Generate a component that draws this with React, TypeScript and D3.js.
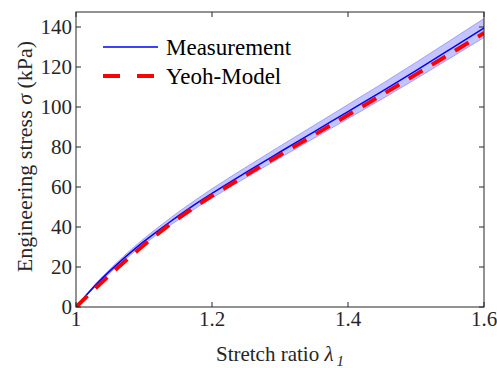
import React from 'react';
import * as d3 from 'd3';

// stretch ratio samples
const stretch = [1.0, 1.02, 1.04, 1.06, 1.08, 1.1, 1.12, 1.14, 1.16, 1.18, 1.2, 1.25, 1.3, 1.35, 1.4, 1.45, 1.5, 1.55, 1.6];
// measured engineering stress (kPa)
const measured = [0, 7.8, 14.8, 21.2, 27.2, 32.8, 38.0, 43.0, 47.8, 52.4, 56.8, 67.3, 77.5, 87.6, 97.7, 107.8, 118.2, 128.8, 139.5];
// spread of the measurement (kPa)
const spread = [0, 0.5, 0.8, 1.0, 1.2, 1.4, 1.6, 1.8, 2.0, 2.1, 2.3, 2.6, 2.9, 3.2, 3.5, 3.8, 4.1, 4.4, 4.7];
// Yeoh model fit (kPa)
const yeoh = [0, 6.6, 13.0, 19.2, 25.2, 31.0, 36.5, 41.7, 46.6, 51.2, 55.6, 65.9, 76.0, 86.0, 96.0, 106.1, 116.3, 126.6, 137];

const xTicks = [1, 1.2, 1.4, 1.6];
const yTicks = [0, 20, 40, 60, 80, 100, 120, 140];

const width = 497;
const height = 368;
const margin = { top: 12, right: 13, bottom: 61, left: 76 };
const font = '"Liberation Serif", "Times New Roman", serif';
const axisColor = '#262626';

export default function App() {
  const x = d3.scaleLinear().domain([1, 1.6]).range([margin.left, width - margin.right]);
  const y = d3.scaleLinear().domain([0, 147.5]).range([height - margin.bottom, margin.top]);

  const idx = stretch.map((_, i) => i);

  const area = d3.area<number>()
    .curve(d3.curveMonotoneX)
    .x(i => x(stretch[i]))
    .y0(i => y(measured[i] - spread[i]))
    .y1(i => y(measured[i] + spread[i]));

  const line = (vals: number[]) => d3.line<number>()
    .curve(d3.curveMonotoneX)
    .x(i => x(stretch[i]))
    .y(i => y(vals[i]))(idx) as string;

  const x0 = margin.left, x1 = width - margin.right;
  const y0 = height - margin.bottom, y1 = margin.top;
  const tick = 5;

  return (
    <svg width={width} height={height} style={{ position: 'absolute', left: 0, top: 0, background: '#fff' }}
      fontFamily={font}>
      <defs>
        <clipPath id="plot">
          <rect x={x0} y={y1} width={x1 - x0} height={y0 - y1} />
        </clipPath>
      </defs>
      <g clipPath="url(#plot)">
        <path d={area(idx) as string} fill="#c4c4ff" stroke="#a0a0ff" strokeWidth={1} />
        <path d={line(measured)} fill="none" stroke="#0000ff" strokeWidth={1.5} />
        <path d={line(yeoh)} fill="none" stroke="#ff0000" strokeWidth={4} strokeDasharray="16,11" />
      </g>

      {/* box and ticks */}
      <rect x={x0} y={y1} width={x1 - x0} height={y0 - y1} fill="none" stroke={axisColor} strokeWidth={1} />
      {xTicks.map(t => (
        <g key={'x' + t}>
          <line x1={x(t)} x2={x(t)} y1={y0} y2={y0 - tick} stroke={axisColor} />
          <line x1={x(t)} x2={x(t)} y1={y1} y2={y1 + tick} stroke={axisColor} />
          <text x={x(t)} y={y0 + 19} textAnchor="middle" fontSize={21} fill={axisColor}>{t}</text>
        </g>
      ))}
      {yTicks.map(t => (
        <g key={'y' + t}>
          <line x1={x0} x2={x0 + tick} y1={y(t)} y2={y(t)} stroke={axisColor} />
          <line x1={x1} x2={x1 - tick} y1={y(t)} y2={y(t)} stroke={axisColor} />
          <text x={x0 - 4} y={y(t) + 7} textAnchor="end" fontSize={21} fill={axisColor}>{t}</text>
        </g>
      ))}

      {/* axis titles */}
      <text x={(x0 + x1) / 2} y={361} textAnchor="middle" fontSize={21} fill={axisColor}>
        Stretch ratio <tspan fontStyle="italic">λ</tspan><tspan fontStyle="italic" fontSize={15} dx={3} dy={5}>1</tspan>
      </text>
      <text transform={`translate(32,${(y0 + y1) / 2 - 3}) rotate(-90)`} textAnchor="middle" fontSize={22} fill={axisColor}>
        Engineering stress <tspan fontStyle="italic">σ</tspan> (kPa)
      </text>

      {/* legend */}
      <line x1={103} x2={158} y1={47} y2={47} stroke="#0000ff" strokeWidth={1.5} />
      <text x={166} y={55} fontSize={23} fill="#000">Measurement</text>
      <line x1={103} x2={158} y1={76} y2={76} stroke="#ff0000" strokeWidth={4} strokeDasharray="17,17" />
      <text x={166} y={84} fontSize={23} fill="#000">Yeoh-Model</text>
    </svg>
  );
}
